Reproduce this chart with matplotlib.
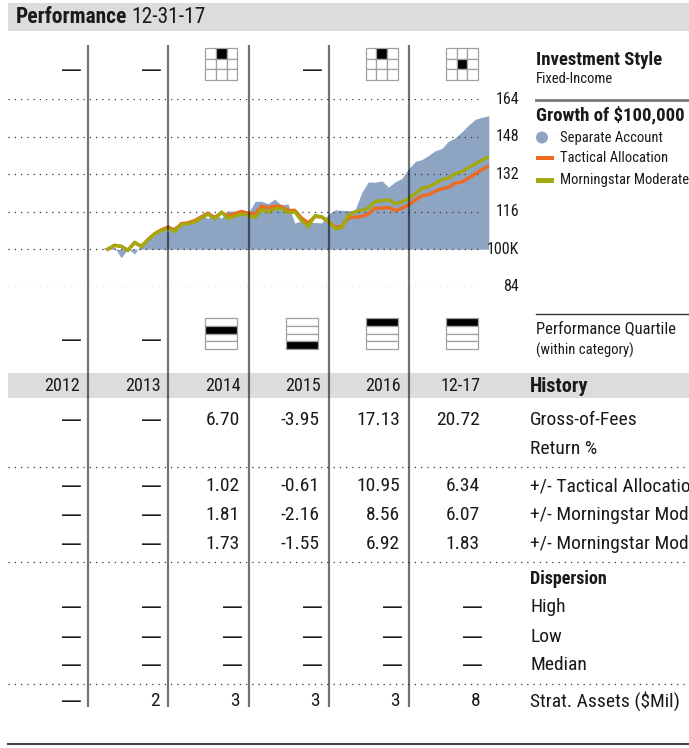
import matplotlib
matplotlib.use('Agg')
import matplotlib.pyplot as plt
import matplotlib.transforms as mtransforms
from matplotlib import font_manager as fm
from matplotlib.patches import Rectangle, Circle
import pandas as pd

# pick a narrow font if one is installed
names = {f.name for f in fm.fontManager.ttflist}
FONT = 'Liberation Sans'
k = 0.87
for fam in ['Liberation Sans Narrow', 'Roboto Condensed', 'Open Sans Condensed']:
    if fam in names:
        FONT = fam
        k = 1.0
        break
plt.rcParams['font.family'] = [FONT, 'DejaVu Sans']

# ---- data ----
sep_account = [100.0, 101.1, 100.8, 96.3, 100.2, 98.0, 102.2, 105.6, 107.1, 108.3,
               107.7, 110.0, 110.7, 111.2, 112.2, 114.5, 113.2, 115.0, 113.2, 116.4,
               116.1, 116.2, 115.3, 120.4, 120.5, 119.4, 121.4, 118.8, 119.4, 111.1,
               112.2, 111.4, 111.4, 111.2, 115.0, 116.8, 116.6, 116.5, 116.6, 124.2,
               128.7, 128.6, 129.2, 126.5, 128.8, 130.2, 134.4, 137.5, 138.2, 140.0,
               142.0, 143.0, 146.1, 147.5, 150.2, 153.0, 155.5, 156.3, 157.0]
tactical = [100.0, 101.6, 101.2, 99.6, 102.8, 101.3, 104.1, 106.7, 108.3, 109.5,
            108.1, 110.9, 111.3, 112.2, 113.8, 115.4, 113.5, 115.6, 114.2, 115.3,
            116.1, 115.4, 115.1, 118.2, 117.8, 118.3, 118.3, 116.5, 116.6, 113.3,
            111.3, 114.0, 113.7, 111.8, 109.5, 109.6, 113.3, 113.7, 114.0, 115.0,
            117.5, 117.5, 117.8, 116.5, 117.5, 119.0, 121.1, 122.8, 123.3, 124.7,
            125.8, 126.4, 128.2, 128.7, 130.4, 132.2, 134.0, 135.4]
ms_moderate = [100.0, 101.7, 101.3, 99.5, 102.9, 101.1, 104.0, 106.5, 107.9, 109.0,
               107.6, 110.5, 110.9, 111.6, 113.3, 114.9, 113.0, 115.8, 113.1, 114.2,
               115.0, 114.5, 113.5, 117.0, 115.8, 117.3, 117.4, 115.6, 115.9, 112.2,
               109.7, 114.3, 113.9, 112.0, 108.7, 109.1, 114.5, 116.0, 116.6, 117.6,
               120.4, 120.7, 121.1, 119.4, 120.2, 121.8, 123.8, 126.0, 126.6, 128.0,
               129.7, 130.4, 132.3, 133.1, 134.9, 136.5, 138.0, 139.4]
dates_area = pd.date_range('2013-02-28', '2017-12-31', freq='ME')
dates_line = dates_area[1:]

y_ticks = [84, 100, 116, 132, 148, 164]
y_tick_labels = ['84', '100K', '116', '132', '148', '164']

years = ['2012', '2013', '2014', '2015', '2016', '12-17']
style_cell = [None, None, (0, 1), None, (0, 1), (1, 1)]   # (row, col) of black cell
quartile = [None, None, 2, 4, 1, 1]
gross = [None, None, '6.70', '-3.95', '17.13', '20.72']
vs_tactical = [None, None, '1.02', '-0.61', '10.95', '6.34']
vs_ms_1 = [None, None, '1.81', '-2.16', '8.56', '6.07']
vs_ms_2 = [None, None, '1.73', '-1.55', '6.92', '1.83']
disp_high = [None] * 6
disp_low = [None] * 6
disp_median = [None] * 6
assets = [None, '2', '3', '3', '3', '8']

AREA = '#8da4c3'
ORANGE = '#ee6a1e'
GREEN = '#a2a90c'
TXT = '#1a1a1a'

W, H = 689, 748
fig = plt.figure(figsize=(W / 100, H / 100), dpi=100)

# column geometry (pixels)
x0, cw = 8, 80.17
col_left = [x0 + cw * i for i in range(6)]
col_right = [c + cw for c in col_left]

# ---- growth chart ----
top_px, bot_px = 99.3, 286.7
ax = fig.add_axes([x0 / W, (H - bot_px) / H, (cw * 6) / W, (bot_px - top_px) / H], zorder=1)
ax.set_xlim(pd.Timestamp('2012-01-01'), pd.Timestamp('2018-01-01'))
ax.set_ylim(84, 164)
ax.axis('off')
ax.fill_between(dates_area, sep_account, 100, color=AREA, lw=0, zorder=1)
ax.hlines(y_ticks, 0, 0.988, transform=ax.get_yaxis_transform(), colors='#333333',
          linestyles=(0, (1, 4)), lw=0.9, zorder=2)
ax.plot(dates_line, tactical, color=ORANGE, lw=2.4, zorder=3, solid_joinstyle='miter')
ax.plot(dates_line, ms_moderate, color=GREEN, lw=2.4, zorder=4, solid_joinstyle='miter')

# ---- overlay in pixel coordinates ----
tab = fig.add_axes([0, 0, 1, 1], zorder=3)
tab.set_xlim(0, W)
tab.set_ylim(H, 0)
tab.axis('off')

lab_tr = mtransforms.blended_transform_factory(tab.transData, ax.transData)
for v, s in zip(y_ticks, y_tick_labels):
    tab.text(519, v, s, transform=lab_tr, ha='right', va='center', fontsize=11.5 * k, color=TXT)


def txt(x, y, s, size=14, weight='normal', ha='left'):
    return tab.text(x, y, s, ha=ha, va='center', fontsize=size * k, fontweight=weight, color=TXT)


# bars
tab.add_patch(Rectangle((8, 3), W - 8, 28, color='#dcdcdc', lw=0))
tab.add_patch(Rectangle((8, 373), W - 8, 25, color='#dcdcdc', lw=0))
t = txt(16, 17, 'Performance', 15.5, 'bold')
fig.canvas.draw()
bb = t.get_window_extent(fig.canvas.get_renderer())
txt(bb.x1 + 4, 17, '12-31-17', 15.5)

# column separators
for xv in col_left[1:]:
    tab.plot([xv, xv], [45, 707], color='black', alpha=0.55, lw=1.6, solid_capstyle='butt')


def dash(i, y):
    tab.text(col_right[i] - 6, y, '\u2014', ha='right', va='center', fontsize=15,
             family='DejaVu Sans', color=TXT)


# style boxes row
bw = 32
for i, cell in enumerate(style_cell):
    if cell is None:
        dash(i, 70)
        continue
    bx, by = col_left[i] + 37, 48
    for r in range(3):
        for c in range(3):
            fc = 'black' if (r, c) == cell else 'white'
            tab.add_patch(Rectangle((bx + c * bw / 3, by + r * bw / 3), bw / 3, bw / 3,
                                    fc=fc, ec='#a0a0a0', lw=0.9))

# quartile row
for i, q in enumerate(quartile):
    if q is None:
        dash(i, 340)
        continue
    bx, by, bh = col_left[i] + 37, 318, 31 / 4
    for r in range(4):
        fc = 'black' if r == q - 1 else 'white'
        tab.add_patch(Rectangle((bx, by + r * bh), bw, bh, fc=fc, ec='#a0a0a0', lw=0.9))

# history years
for i, yv in enumerate(years):
    txt(col_right[i] - 8, 386, yv, 13, ha='right')

# table rows
rows = [(420, gross), (486, vs_tactical), (515, vs_ms_1), (544, vs_ms_2),
        (607, disp_high), (637, disp_low), (665, disp_median), (701, assets)]
for y, vals in rows:
    for i, v in enumerate(vals):
        if v is None:
            dash(i, y)
        else:
            txt(col_right[i] - 9, y, v, 14, ha='right')

# dotted separators
for y in [467, 562, 684]:
    tab.plot([8, W], [y, y], color='#333333', ls=(0, (1, 4)), lw=0.9)

# right panel
txt(536, 60, 'Investment Style', 13.5, 'bold')
txt(536, 79, 'Fixed-Income', 10.5)
tab.plot([536, W], [100, 100], color='#777777', lw=2)
txt(536, 115, 'Growth of $100,000', 13.5, 'bold')
tab.add_patch(Circle((542, 137.5), 6, color=AREA, lw=0))
txt(560, 138, 'Separate Account', 10.5)
tab.add_patch(Rectangle((536, 155.5), 18, 4.5, color=ORANGE, lw=0))
txt(560, 158, 'Tactical Allocation', 10.5)
tab.add_patch(Rectangle((536, 178), 18, 4.5, color=GREEN, lw=0))
txt(560, 180, 'Morningstar Moderate', 10.5)

tab.plot([536, W], [314, 314], color='#333333', lw=1)
txt(536, 329, 'Performance Quartile', 12)
txt(536, 350, '(within category)', 10.5)

txt(530, 386, 'History', 14.5, 'bold')
txt(530, 420, 'Gross-of-Fees', 14)
txt(530, 449, 'Return %', 14)
# the reference cuts these long labels at the right edge
txt(530, 486, '+/- Tactical Allocation', 14)
txt(530, 515, '+/- Morningstar Moderate Target Risk', 14)
txt(530, 544, '+/- Morningstar Moderately Conservative', 14)
txt(530, 579, 'Dispersion', 13, 'bold')
txt(530, 607, 'High', 14)
txt(530, 637, 'Low', 14)
txt(530, 665, 'Median', 14)
txt(530, 701, 'Strat. Assets ($Mil)', 14)

tab.plot([8, W], [744, 744], color='#444444', lw=1.5)

fig.savefig('out.png', dpi=100)
